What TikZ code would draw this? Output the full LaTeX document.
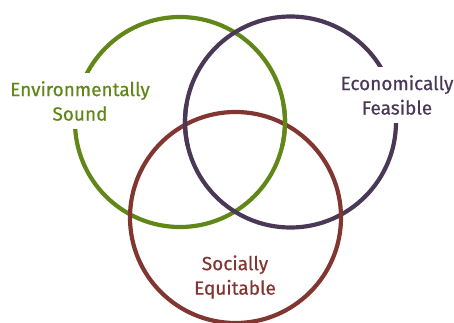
\documentclass[tikz,border=0pt]{standalone}
\usepackage{fontspec}
\setmainfont{Fira Sans}[FakeBold=0.5]
\definecolor{envgreen}{RGB}{96,135,24}
\definecolor{ecopurple}{RGB}{74,57,86}
\definecolor{socred}{RGB}{130,54,50}
\begin{document}
\begin{tikzpicture}[x=1pt,y=-1pt,
  ring/.style={line width=4.2pt},
  label/.style={fill=white,align=center,inner xsep=3pt,inner ysep=8pt,
    font={\fontsize{19}{24.5}\selectfont}}]
\useasboundingbox[fill=white] (0,0) rectangle (454,323);
\coordinate (cg) at (180,122);
\coordinate (cp) at (290.5,122);
\coordinate (cr) at (235.5,217.5);
\draw[ring,envgreen] (cg) circle[radius=105];
\draw[ring,ecopurple] (cp) circle[radius=105.5];
\draw[ring,socred] (cr) circle[radius=105.5];
% interlacing: purple over red at left, green over red at right
\begin{scope}
  \clip (170,105) rectangle (200,145);
  \draw[ring,ecopurple] (cp) circle[radius=105.5];
\end{scope}
\begin{scope}
  \clip (270,105) rectangle (300,145);
  \draw[ring,envgreen] (cg) circle[radius=105];
\end{scope}
\node[label,text=envgreen] (env) at (80,101) {Environmentally\\Sound};
\node[label,text=ecopurple] (eco) at (397,95) {Economically\\Feasible};
\node[label,text=socred,fill=none] (soc) at (235,277) {Socially\\Equitable};
\end{tikzpicture}
\end{document}
